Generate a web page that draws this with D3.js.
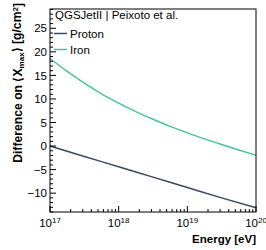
<!DOCTYPE html>
<html>
<head>
<meta charset="utf-8">
<script src="https://cdn.jsdelivr.net/npm/d3@7"></script>
<style>
  body { margin: 0; background: #fff; }
  text { font-family: "Liberation Sans", Arial, sans-serif; }
</style>
</head>
<body>
<svg id="chart"></svg>
<script>
const width = 266;
const height = 250;
const margin = {top: 9, right: 10, bottom: 38, left: 50};

// log10(E / eV) sample points
const protonLogE = [17, 17.5, 18, 18.5, 19, 19.5, 20];
const protonDiff = [0.0, -2.2, -4.4, -6.6, -8.8, -11.0, -13.1];
const ironLogE = [17, 17.25, 17.5, 17.75, 18, 18.25, 18.5, 18.75, 19, 19.25, 19.5, 19.75, 20];
const ironDiff = [18.6, 15.85, 13.35, 11.1, 9.1, 7.3, 5.68, 4.18, 2.8, 1.52, 0.32, -0.83, -1.95];
const yTicks = [-10, -5, 0, 5, 10, 15, 20, 25];
const xDecades = [17, 18, 19, 20];
const legendTitle = "QGSJetII | Peixoto et al.";
const seriesNames = ["Proton", "Iron"];
const seriesColors = ["#3a4a5d", "#47c39e"];

const svg = d3.select('#chart').attr('width', width).attr('height', height);
const x = d3.scaleLog().domain([1e17, 1e20]).range([margin.left, width - margin.right]);
const y = d3.scaleLinear().domain([-14, 29.1]).range([height - margin.bottom, margin.top]);

const series = [
  {name: seriesNames[0], color: seriesColors[0], pts: protonLogE.map((e, i) => [Math.pow(10, e), protonDiff[i]])},
  {name: seriesNames[1], color: seriesColors[1], pts: ironLogE.map((e, i) => [Math.pow(10, e), ironDiff[i]])}
];

const line = d3.line().x(d => x(d[0])).y(d => y(d[1])).curve(d3.curveMonotoneX);

svg.selectAll('.series')
    .data(series)
    .enter().append('path')
    .attr('class', 'series')
    .attr('d', d => line(d.pts))
    .style('fill', 'none')
    .style('stroke', d => d.color)
    .style('stroke-width', '1.5px');

// frame
svg.append('rect')
    .attr('x', margin.left).attr('y', margin.top)
    .attr('width', width - margin.left - margin.right)
    .attr('height', height - margin.top - margin.bottom)
    .style('fill', 'none').style('stroke', '#000').style('stroke-width', '1px');

// y axis, ROOT style ticks pointing inward
const yAxis = svg.append('g').attr('transform', `translate(${margin.left},0)`);
yAxis.selectAll('.ymajor').data(yTicks).enter().append('line')
    .attr('x1', 0).attr('x2', 6).attr('y1', d => y(d)).attr('y2', d => y(d))
    .style('stroke', '#000');
yAxis.selectAll('.yminor').data(d3.range(-14, 30, 1).filter(v => v % 5 !== 0)).enter().append('line')
    .attr('x1', 0).attr('x2', 3).attr('y1', d => y(d)).attr('y2', d => y(d))
    .style('stroke', '#000');
yAxis.selectAll('.ylabel').data(yTicks).enter().append('text')
    .attr('x', -3).attr('y', d => y(d)).attr('dy', '0.36em')
    .attr('text-anchor', 'end').style('font-size', '11.5px')
    .text(d => d < 0 ? '\u2212' + Math.abs(d) : d);

// x axis
const xAxis = svg.append('g').attr('transform', `translate(0,${height - margin.bottom})`);
const minor = [];
xDecades.slice(0, -1).forEach(dec => { for (let k = 2; k < 10; k++) minor.push(k * Math.pow(10, dec)); });
xAxis.selectAll('.xmajor').data(xDecades).enter().append('line')
    .attr('x1', d => x(Math.pow(10, d))).attr('x2', d => x(Math.pow(10, d)))
    .attr('y1', 0).attr('y2', -6).style('stroke', '#000');
xAxis.selectAll('.xminor').data(minor).enter().append('line')
    .attr('x1', d => x(d)).attr('x2', d => x(d))
    .attr('y1', 0).attr('y2', -3).style('stroke', '#000');
const xl = xAxis.selectAll('.xlabel').data(xDecades).enter().append('text')
    .attr('x', d => x(Math.pow(10, d))).attr('y', 15)
    .attr('text-anchor', 'middle').style('font-size', '11.5px');
xl.append('tspan').text('10');
xl.append('tspan').attr('dy', '-0.45em').style('font-size', '8px').text(d => d);

// axis titles
svg.append('text')
    .attr('x', width - margin.right).attr('y', 243)
    .attr('text-anchor', 'end')
    .style('font-size', '11.5px').style('font-weight', 'bold')
    .text('Energy [eV]');

const yt = svg.append('text')
    .attr('transform', `translate(22,${margin.top - 6}) rotate(-90)`)
    .attr('text-anchor', 'end')
    .style('font-size', '12.2px').style('font-weight', 'bold');
yt.append('tspan').text('Difference on \u27E8X');
yt.append('tspan').attr('dy', '0.3em').style('font-size', '8px').text('max');
yt.append('tspan').attr('dy', '-0.3em').text('\u27E9 [g/cm');
yt.append('tspan').attr('dy', '-0.4em').style('font-size', '8px').text('2');
yt.append('tspan').attr('dy', '0.4em').text(']');

// legend
const lg = svg.append('g');
lg.append('text').attr('x', 55).attr('y', 19).style('font-size', '11.5px').text(legendTitle);
series.forEach((s, i) => {
  const ly = 33.5 + i * 16;
  lg.append('line').attr('x1', 54).attr('x2', 67).attr('y1', ly).attr('y2', ly)
      .style('stroke', s.color).style('stroke-width', '1.5px');
  lg.append('text').attr('x', 70).attr('y', ly).attr('dy', '0.36em')
      .style('font-size', '11.5px').text(s.name);
});
</script>
</body>
</html>
